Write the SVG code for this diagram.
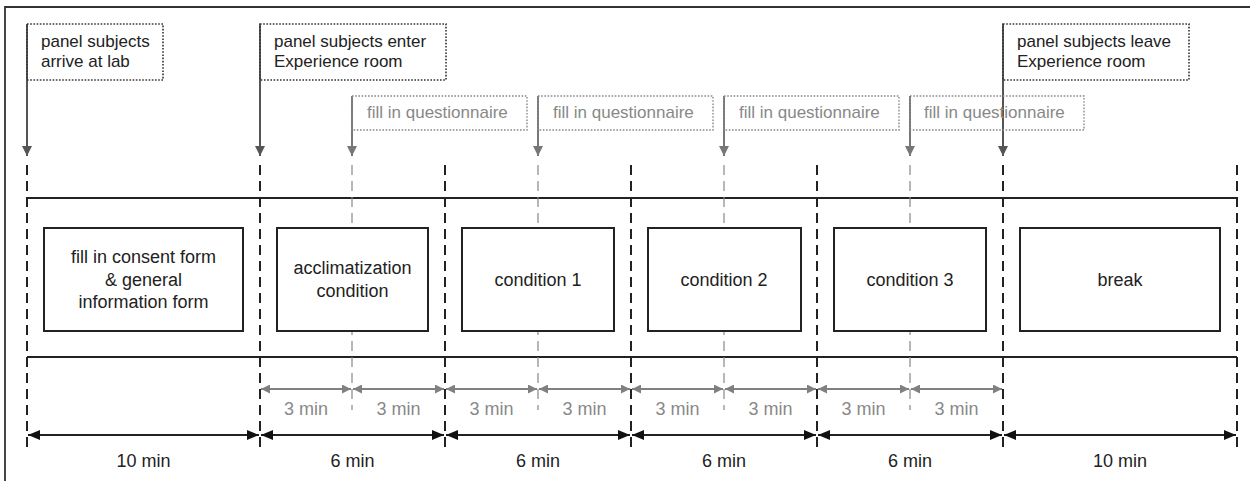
<svg xmlns="http://www.w3.org/2000/svg" width="1250" height="481" viewBox="0 0 1250 481">
<defs>
<style>
text{font-family:"Liberation Sans",Arial,sans-serif}
.ann{font-size:17px;fill:#222}
.q{font-size:17px;fill:#888}
.bt{font-size:18px;fill:#222;text-anchor:middle}
.gt{font-size:18px;fill:#888;text-anchor:middle}
.kt{font-size:18px;fill:#222;text-anchor:middle}
.annbox{fill:none;stroke:#333;stroke-width:1.6;stroke-dasharray:1.6 1.6}
.qbox{fill:none;stroke:#888;stroke-width:1.4;stroke-dasharray:1.6 1.6}
.box{fill:#fff;stroke:#222;stroke-width:2}
.dash{stroke:#222;stroke-width:2;stroke-dasharray:10 6;fill:none}
.gdash{stroke:#888;stroke-width:1.2;stroke-dasharray:10 6;fill:none}
.hl{stroke:#222;stroke-width:2}
.marr{stroke:#555;stroke-width:2}
.qarr{stroke:#777;stroke-width:2}
.gdim{stroke:#808080;stroke-width:2}
.kdim{stroke:#222;stroke-width:2}
</style>
<marker id="mdown" viewBox="0 0 10 10" refX="10" refY="5" markerWidth="10" markerHeight="10" markerUnits="userSpaceOnUse" orient="auto"><path d="M0,0 L10,5 L0,10 Z" fill="#555"/></marker>
<marker id="qdown" viewBox="0 0 10 10" refX="10" refY="5" markerWidth="10" markerHeight="10" markerUnits="userSpaceOnUse" orient="auto"><path d="M0,0 L10,5 L0,10 Z" fill="#777"/></marker>
<marker id="gend" viewBox="0 0 10 10" refX="10" refY="5" markerWidth="10" markerHeight="9" markerUnits="userSpaceOnUse" orient="auto-start-reverse"><path d="M0,0 L10,5 L0,10 Z" fill="#808080"/></marker>
<marker id="kend" viewBox="0 0 12 10" refX="12" refY="5" markerWidth="12" markerHeight="10" markerUnits="userSpaceOnUse" orient="auto-start-reverse"><path d="M0,0 L12,5 L0,10 Z" fill="#111"/></marker>
</defs>
<rect x="0" y="0" width="1250" height="481" fill="#fff"/>
<path d="M5,481 V7 H1250" fill="none" stroke="#333" stroke-width="1.8"/>

<g id="connectors">
<!-- main timeline lines -->
<line class="hl" x1="27" y1="198" x2="1237" y2="198"/>
<line class="hl" x1="27" y1="357" x2="1237" y2="357"/>
<!-- black dashed verticals -->
<line class="dash" x1="27" y1="165" x2="27" y2="451"/>
<line class="dash" x1="260" y1="165" x2="260" y2="451"/>
<line class="dash" x1="445" y1="165" x2="445" y2="451"/>
<line class="dash" x1="631" y1="165" x2="631" y2="451"/>
<line class="dash" x1="817" y1="165" x2="817" y2="451"/>
<line class="dash" x1="1003" y1="165" x2="1003" y2="451"/>
<line class="dash" x1="1237" y1="165" x2="1237" y2="451"/>
<!-- grey dashed verticals -->
<line class="gdash" x1="352" y1="165" x2="352" y2="410"/>
<line class="gdash" x1="538" y1="165" x2="538" y2="410"/>
<line class="gdash" x1="724" y1="165" x2="724" y2="410"/>
<line class="gdash" x1="910" y1="165" x2="910" y2="410"/>
<!-- event arrows -->
<line class="marr" x1="27" y1="24" x2="27" y2="156" marker-end="url(#mdown)"/>
<line class="marr" x1="260" y1="24" x2="260" y2="156" marker-end="url(#mdown)"/>
<line class="marr" x1="1003" y1="24" x2="1003" y2="156" marker-end="url(#mdown)"/>
<line class="qarr" x1="352" y1="96" x2="352" y2="156" marker-end="url(#qdown)"/>
<line class="qarr" x1="538" y1="96" x2="538" y2="156" marker-end="url(#qdown)"/>
<line class="qarr" x1="724" y1="96" x2="724" y2="156" marker-end="url(#qdown)"/>
<line class="qarr" x1="910" y1="96" x2="910" y2="156" marker-end="url(#qdown)"/>
<!-- grey dimension arrows -->
<line class="gdim" x1="261" y1="389" x2="351" y2="389" marker-start="url(#gend)" marker-end="url(#gend)"/>
<line class="gdim" x1="353" y1="389" x2="444" y2="389" marker-start="url(#gend)" marker-end="url(#gend)"/>
<line class="gdim" x1="446" y1="389" x2="537" y2="389" marker-start="url(#gend)" marker-end="url(#gend)"/>
<line class="gdim" x1="539" y1="389" x2="630" y2="389" marker-start="url(#gend)" marker-end="url(#gend)"/>
<line class="gdim" x1="632" y1="389" x2="723" y2="389" marker-start="url(#gend)" marker-end="url(#gend)"/>
<line class="gdim" x1="725" y1="389" x2="816" y2="389" marker-start="url(#gend)" marker-end="url(#gend)"/>
<line class="gdim" x1="818" y1="389" x2="909" y2="389" marker-start="url(#gend)" marker-end="url(#gend)"/>
<line class="gdim" x1="911" y1="389" x2="1002" y2="389" marker-start="url(#gend)" marker-end="url(#gend)"/>
<!-- black dimension arrows -->
<line class="kdim" x1="28" y1="435" x2="259" y2="435" marker-start="url(#kend)" marker-end="url(#kend)"/>
<line class="kdim" x1="261" y1="435" x2="444" y2="435" marker-start="url(#kend)" marker-end="url(#kend)"/>
<line class="kdim" x1="446" y1="435" x2="630" y2="435" marker-start="url(#kend)" marker-end="url(#kend)"/>
<line class="kdim" x1="632" y1="435" x2="816" y2="435" marker-start="url(#kend)" marker-end="url(#kend)"/>
<line class="kdim" x1="818" y1="435" x2="1002" y2="435" marker-start="url(#kend)" marker-end="url(#kend)"/>
<line class="kdim" x1="1004" y1="435" x2="1236" y2="435" marker-start="url(#kend)" marker-end="url(#kend)"/>
</g>

<g id="ann-arrive">
<rect class="annbox" x="27" y="24" width="136" height="56"/>
<text class="ann" x="41" y="47">panel subjects</text>
<text class="ann" x="41" y="67">arrive at lab</text>
</g>
<g id="ann-enter">
<rect class="annbox" x="260" y="24" width="186" height="56"/>
<text class="ann" x="274" y="47">panel subjects enter</text>
<text class="ann" x="274" y="67">Experience room</text>
</g>
<g id="ann-leave">
<rect class="annbox" x="1003" y="24" width="186" height="56"/>
<text class="ann" x="1017" y="47">panel subjects leave</text>
<text class="ann" x="1017" y="67">Experience room</text>
</g>
<g id="q1">
<rect class="qbox" x="352" y="96" width="175" height="34"/>
<text class="q" x="367" y="118">fill in questionnaire</text>
</g>
<g id="q2">
<rect class="qbox" x="538" y="96" width="175" height="34"/>
<text class="q" x="553" y="118">fill in questionnaire</text>
</g>
<g id="q3">
<rect class="qbox" x="724" y="96" width="175" height="34"/>
<text class="q" x="739" y="118">fill in questionnaire</text>
</g>
<g id="q4">
<rect class="qbox" x="910" y="96" width="174" height="34"/>
<text class="q" x="924" y="118">fill in questionnaire</text>
</g>

<g id="box-consent">
<rect class="box" x="44" y="228" width="199" height="103"/>
<text class="bt" x="143.5" y="263">fill in consent form</text>
<text class="bt" x="143.5" y="285.5">&amp; general</text>
<text class="bt" x="143.5" y="308">information form</text>
</g>
<g id="box-acclim">
<rect class="box" x="277" y="228" width="151" height="103"/>
<text class="bt" x="352.5" y="274">acclimatization</text>
<text class="bt" x="352.5" y="297">condition</text>
</g>
<g id="box-c1">
<rect class="box" x="462" y="228" width="152" height="103"/>
<text class="bt" x="538" y="286">condition 1</text>
</g>
<g id="box-c2">
<rect class="box" x="648" y="228" width="153" height="103"/>
<text class="bt" x="724" y="286">condition 2</text>
</g>
<g id="box-c3">
<rect class="box" x="834" y="228" width="152" height="103"/>
<text class="bt" x="910" y="286">condition 3</text>
</g>
<g id="box-break">
<rect class="box" x="1020" y="228" width="200" height="103"/>
<text class="bt" x="1120" y="286">break</text>
</g>

<g id="dim-labels">
<text class="gt" x="306" y="415">3 min</text>
<text class="gt" x="398.5" y="415">3 min</text>
<text class="gt" x="491.5" y="415">3 min</text>
<text class="gt" x="584.5" y="415">3 min</text>
<text class="gt" x="677.5" y="415">3 min</text>
<text class="gt" x="770.5" y="415">3 min</text>
<text class="gt" x="863.5" y="415">3 min</text>
<text class="gt" x="956.5" y="415">3 min</text>
<text class="kt" x="143.5" y="467">10 min</text>
<text class="kt" x="352.5" y="467">6 min</text>
<text class="kt" x="538" y="467">6 min</text>
<text class="kt" x="724" y="467">6 min</text>
<text class="kt" x="910" y="467">6 min</text>
<text class="kt" x="1120" y="467">10 min</text>
</g>
</svg>
